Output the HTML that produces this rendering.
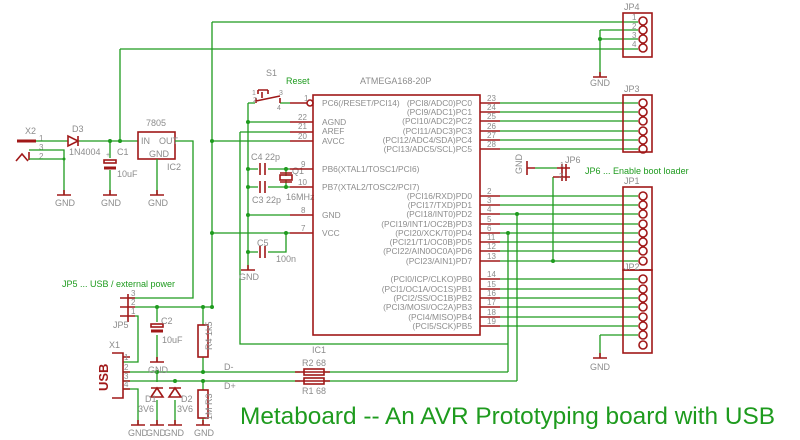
<!DOCTYPE html>
<html><head><meta charset="utf-8"><style>
html,body{margin:0;padding:0;background:#fff}
svg{display:block;font-size:9px}
text{font-family:"Liberation Sans",sans-serif;fill:#8c8c8c}
.g{stroke:#1e9b1e;stroke-width:1.3;fill:none}
.r{stroke:#a01818;stroke-width:1.6;fill:none}
.d{fill:#1e9b1e}
.gt{fill:#1e9b1e}
.pl text{font-size:8.4px}
</style></head><body>
<svg width="800" height="440" viewBox="0 0 800 440" xmlns="http://www.w3.org/2000/svg">
<path class="g" d="M212 22H638 M120 49H638 M120 49V141 M212 22V307 M600 30H638 M600 39H638 M600 30V77"/>
<circle class="d" cx="600" cy="39" r="2"/>
<path class="r" d="M593 77H607 M600 72V77"/><text x="590" y="86">GND</text>
<rect class="r" x="623" y="13" width="29" height="44"/>
<text x="624" y="10">JP4</text>
<g class="r"><circle cx="643" cy="21" r="4"/><circle cx="643" cy="30" r="4"/><circle cx="643" cy="39" r="4"/><circle cx="643" cy="48" r="4"/></g>
<text x="632" y="20" font-size="8">1</text><text x="632" y="29" font-size="8">2</text><text x="632" y="38" font-size="8">3</text><text x="632" y="47" font-size="8">4</text>

<text x="25" y="134">X2</text><text x="39" y="141" font-size="8">1</text><text x="39" y="150" font-size="8">3</text><text x="39" y="159" font-size="8">2</text>
<path d="M17 141H36" stroke="#a01818" stroke-width="3"/>
<path class="r" d="M16 161L22 154L28 161 M29 152V160"/>
<path class="g" d="M36 141H68 M78 141H138 M29 150H64V195 M29 159H64"/>
<circle class="d" cx="64" cy="159" r="1.5"/>
<path class="r" d="M68 136V146L78 141Z M78 136V146" fill="#a01818"/>
<text x="72" y="132">D3</text><text x="69" y="155">1N4004</text>
<path class="r" d="M57 195H71 M64 190V195"/><text x="55" y="206">GND</text>
<circle class="d" cx="110" cy="141" r="2"/><circle class="d" cx="120" cy="141" r="2"/>
<path class="g" d="M110 141V158 M110 170V195"/>
<rect class="r" x="104" y="160" width="12" height="3"/><path d="M104 168H116" stroke="#a01818" stroke-width="3"/>
<text x="106" y="157" font-size="7">+</text>
<text x="117" y="155">C1</text><text x="117" y="177">10uF</text>
<path class="r" d="M103 195H117 M110 190V195"/><text x="101" y="206">GND</text>
<rect class="r" x="138" y="132" width="37" height="27"/>
<text x="146" y="126">7805</text><text x="141" y="144">IN</text><text x="159" y="144">OUT</text><text x="149" y="157">GND</text><text x="167" y="170">IC2</text>
<path class="g" d="M157 159V195 M175 141H193V298H128"/>
<path class="r" d="M150 195H164 M157 190V195"/><text x="148" y="206">GND</text>

<path class="g" d="M212 141H290 M212 233H290 M240 132H290 M240 132V344H508 M248 103V270 M248 122H290 M248 215H290 M248 169H258 M268 169H290 M248 187H258 M268 187H290 M286 169V176 M286 180V187 M248 252H258 M268 252H286V233 M280 103H290 M248 103H255"/>
<g class="d"><circle cx="212" cy="141" r="2"/><circle cx="212" cy="233" r="2"/><circle cx="248" cy="122" r="2"/><circle cx="248" cy="169" r="2"/><circle cx="248" cy="187" r="2"/><circle cx="248" cy="215" r="2"/><circle cx="248" cy="252" r="2"/><circle cx="286" cy="169" r="2"/><circle cx="286" cy="187" r="2"/><circle cx="286" cy="233" r="2"/></g>
<path class="r" d="M260 163V175 M265 163V175 M260 181V193 M265 181V193 M260 246V258 M265 246V258" stroke-width="2.2"/>
<rect class="r" x="280" y="175" width="12" height="5"/>
<path class="r" d="M280 173H292 M280 182H292"/>
<text x="251" y="160">C4 22p</text><text x="252" y="203">C3 22p</text><text x="292" y="174">Q1</text><text x="286" y="200">16MHz</text>
<text x="257" y="246">C5</text><text x="276" y="262">100n</text>
<path class="r" d="M241 270H255 M248 265V270"/><text x="239" y="280">GND</text>
<path class="r" d="M256 101L280 96 M262 98V92 M258 90H268 M258 90V94 M268 90V94 M256 103V98 M280 103V98"/>
<text x="266" y="76">S1</text><text x="286" y="84" class="gt">Reset</text>
<text x="252" y="95" font-size="7">1</text><text x="279" y="95" font-size="7">3</text><text x="253" y="102" font-size="7">2</text><text x="277" y="110" font-size="7">4</text>
<rect class="r" x="313" y="95" width="167" height="240"/>
<text x="360" y="84">ATMEGA168-20P</text>
<circle class="r" cx="310" cy="103" r="3"/>
<path class="r" d="M290 103H307 M290 122H313 M290 132H313 M290 141H313 M290 169H313 M290 187H313 M290 215H313 M290 233H313"/>
<g font-size="8"><text x="304" y="101">1</text><text x="298" y="120">22</text><text x="298" y="129">21</text><text x="298" y="139">20</text><text x="301" y="167">9</text><text x="298" y="185">10</text><text x="301" y="213">8</text><text x="301" y="231">7</text></g>
<g class="pl"><text x="322" y="106">PC6(/RESET/PCI14)</text><text x="322" y="125">AGND</text><text x="322" y="134">AREF</text><text x="322" y="144">AVCC</text><text x="322" y="172">PB6(XTAL1/TOSC1/PCI6)</text><text x="322" y="190">PB7(XTAL2/TOSC2/PCI7)</text><text x="322" y="218">GND</text><text x="322" y="236">VCC</text></g>
<g class="pl" text-anchor="end">
<text x="472" y="106">(PCI8/ADC0)PC0</text><text x="472" y="115">(PCI9/ADC1)PC1</text><text x="472" y="124">(PCI10/ADC2)PC2</text><text x="472" y="134">(PCI11/ADC3)PC3</text><text x="472" y="143">(PCI12/ADC4/SDA)PC4</text><text x="472" y="152">(PCI13/ADC5/SCL)PC5</text>
<text x="472" y="199">(PCI16/RXD)PD0</text><text x="472" y="208">(PCI17/TXD)PD1</text><text x="472" y="217">(PCI18/INT0)PD2</text><text x="472" y="227">(PCI19/INT1/OC2B)PD3</text><text x="472" y="236">(PCI20/XCK/T0)PD4</text><text x="472" y="245">(PCI21/T1/OC0B)PD5</text><text x="472" y="254">(PCI22/AIN0OC0A)PD6</text><text x="472" y="264">(PCI23/AIN1)PD7</text>
<text x="472" y="282">(PCI0/ICP/CLKO)PB0</text><text x="472" y="292">(PCI1/OC1A/OC1S)PB1</text><text x="472" y="301">(PCI2/SS/OC1B)PB2</text><text x="472" y="310">(PCI3/MOSI/OC2A)PB3</text><text x="472" y="320">(PCI4/MISO)PB4</text><text x="472" y="329">(PCI5/SCK)PB5</text>
</g>
<path class="r" d="M480 103H500 M480 112H500 M480 121H500 M480 131H500 M480 140H500 M480 149H500 M480 196H500 M480 205H500 M480 214H500 M480 224H500 M480 233H500 M480 242H500 M480 251H500 M480 261H500 M480 279H500 M480 289H500 M480 298H500 M480 307H500 M480 317H500 M480 326H500"/>
<path class="g" d="M500 103H638 M500 112H638 M500 121H638 M500 131H638 M500 140H638 M500 149H638 M500 196H638 M500 205H638 M500 214H638 M500 224H638 M500 233H638 M500 242H638 M500 251H638 M500 261H638 M500 279H638 M500 289H638 M500 298H638 M500 307H638 M500 317H638 M500 326H638 M600 335H638 M600 335V358 M517 214V381 M508 233V372"/>
<circle class="d" cx="517" cy="214" r="2"/><circle class="d" cx="508" cy="233" r="2"/>
<g font-size="8"><text x="487" y="101">23</text><text x="487" y="110">24</text><text x="487" y="119">25</text><text x="487" y="129">26</text><text x="487" y="138">27</text><text x="487" y="147">28</text>
<text x="487" y="194">2</text><text x="487" y="203">3</text><text x="487" y="212">4</text><text x="487" y="222">5</text><text x="487" y="231">6</text><text x="487" y="240">11</text><text x="487" y="249">12</text><text x="487" y="259">13</text>
<text x="487" y="277">14</text><text x="487" y="287">15</text><text x="487" y="296">16</text><text x="487" y="305">17</text><text x="487" y="315">18</text><text x="487" y="324">19</text></g>
<path class="r" d="M593 358H607 M600 353V358"/><text x="590" y="370">GND</text>
<rect class="r" x="623" y="95" width="29" height="57"/><text x="624" y="92">JP3</text>
<g class="r"><circle cx="643" cy="103" r="4"/><circle cx="643" cy="112" r="4"/><circle cx="643" cy="121" r="4"/><circle cx="643" cy="131" r="4"/><circle cx="643" cy="140" r="4"/><circle cx="643" cy="149" r="4"/></g>
<rect class="r" x="623" y="187" width="29" height="83"/><rect class="r" x="623" y="270" width="29" height="83"/>
<text x="624" y="184">JP1</text><text x="624" y="270">JP2</text>
<g class="r"><circle cx="643" cy="196" r="4"/><circle cx="643" cy="205" r="4"/><circle cx="643" cy="214" r="4"/><circle cx="643" cy="224" r="4"/><circle cx="643" cy="233" r="4"/><circle cx="643" cy="242" r="4"/><circle cx="643" cy="251" r="4"/><circle cx="643" cy="261" r="4"/>
<circle cx="643" cy="279" r="4"/><circle cx="643" cy="289" r="4"/><circle cx="643" cy="298" r="4"/><circle cx="643" cy="307" r="4"/><circle cx="643" cy="317" r="4"/><circle cx="643" cy="326" r="4"/><circle cx="643" cy="335" r="4"/><circle cx="643" cy="345" r="4"/></g>
<path class="r" d="M527 161V175 M527 168H535"/>
<text x="522" y="174" transform="rotate(-90 522 174)">GND</text>
<path class="g" d="M535 168H557 M553 177V261"/><circle class="d" cx="553" cy="261" r="2"/>
<path class="r" d="M562 164V181 M566 164V181 M557 168H570 M553 177H570"/>
<text x="565" y="163">JP6</text><text x="560" y="167" font-size="7">1</text><text x="559" y="178" font-size="7">2</text>
<text x="585" y="174" class="gt">JP6 ... Enable boot loader</text>

<text x="62" y="287" class="gt">JP5 ... USB / external power</text>
<path class="r" d="M120 298H135 M120 307H135 M120 316H135 M128 294V322" stroke-width="2"/>
<text x="131" y="296" font-size="8">3</text><text x="131" y="305" font-size="8">2</text><text x="131" y="314" font-size="8">1</text><text x="113" y="328">JP5</text>
<path class="g" d="M135 307H212 M135 316H138V362H123 M157 307V322 M157 335V362 M203 307V325 M203 357V372 M123 372H300 M325 372H508 M123 381H300 M325 381H517 M123 389H138V425 M157 372V382 M157 400V425 M175 381V382 M175 400V425 M203 381V390 M203 418V425"/>
<g class="d"><circle cx="157" cy="307" r="2"/><circle cx="203" cy="307" r="2"/><circle cx="212" cy="307" r="2"/><circle cx="157" cy="372" r="2"/><circle cx="203" cy="372" r="2"/><circle cx="175" cy="381" r="2"/><circle cx="203" cy="381" r="2"/></g>
<rect class="r" x="151" y="324" width="12" height="3"/><path d="M151 331H163" stroke="#a01818" stroke-width="3"/>
<text x="161" y="324">C2</text><text x="162" y="343">10uF</text>
<path class="r" d="M150 362H164 M157 357V362"/><text x="148" y="373">GND</text>
<rect class="r" x="198" y="325" width="10" height="32"/>
<text x="212" y="350" transform="rotate(-90 212 350)">R4 1k5</text>
<rect class="r" x="198" y="390" width="10" height="28"/>
<text x="212" y="420" transform="rotate(-90 212 420)">1M R3</text>
<path class="r" d="M112 353H123V398H112 M123 357H130 M123 372H130 M123 381H130 M123 389H130"/>
<text x="109" y="348">X1</text>
<text x="108" y="391" transform="rotate(-90 108 391)" font-size="13" font-weight="bold" style="fill:#a01818">USB</text>
<g font-size="8"><text x="124" y="360">1</text><text x="124" y="370">2</text><text x="124" y="379">3</text><text x="124" y="387">4</text></g>
<path class="r" d="M151 397H163 M157 388L151 397H163Z M169 397H181 M175 388L169 397H181Z" fill="#a01818"/>
<path class="r" d="M151 388H163 M169 388H181"/>
<text x="145" y="402">D1</text><text x="138" y="412">3V6</text><text x="181" y="402">D2</text><text x="177" y="412">3V6</text>
<g class="r"><path d="M131 425H145 M138 420V425 M150 425H164 M157 420V425 M168 425H182 M175 420V425 M196 425H210 M203 420V425"/></g>
<text x="128" y="436">GND</text><text x="146" y="436">GND</text><text x="164" y="436">GND</text><text x="194" y="436">GND</text>
<path class="r" d="M295 372H330 M295 381H330"/>
<rect class="r" x="304" y="369" width="20" height="6" fill="#fff"/><rect class="r" x="304" y="378" width="20" height="6" fill="#fff"/>
<text x="312" y="353">IC1</text><text x="302" y="366">R2  68</text><text x="302" y="394">R1  68</text>
<text x="224" y="370">D-</text><text x="224" y="389">D+</text>
<text x="240" y="424" class="gt" style="font-size:24px" textLength="535" lengthAdjust="spacingAndGlyphs">Metaboard -- An AVR Prototyping board with USB</text>
</svg>
</body></html>
